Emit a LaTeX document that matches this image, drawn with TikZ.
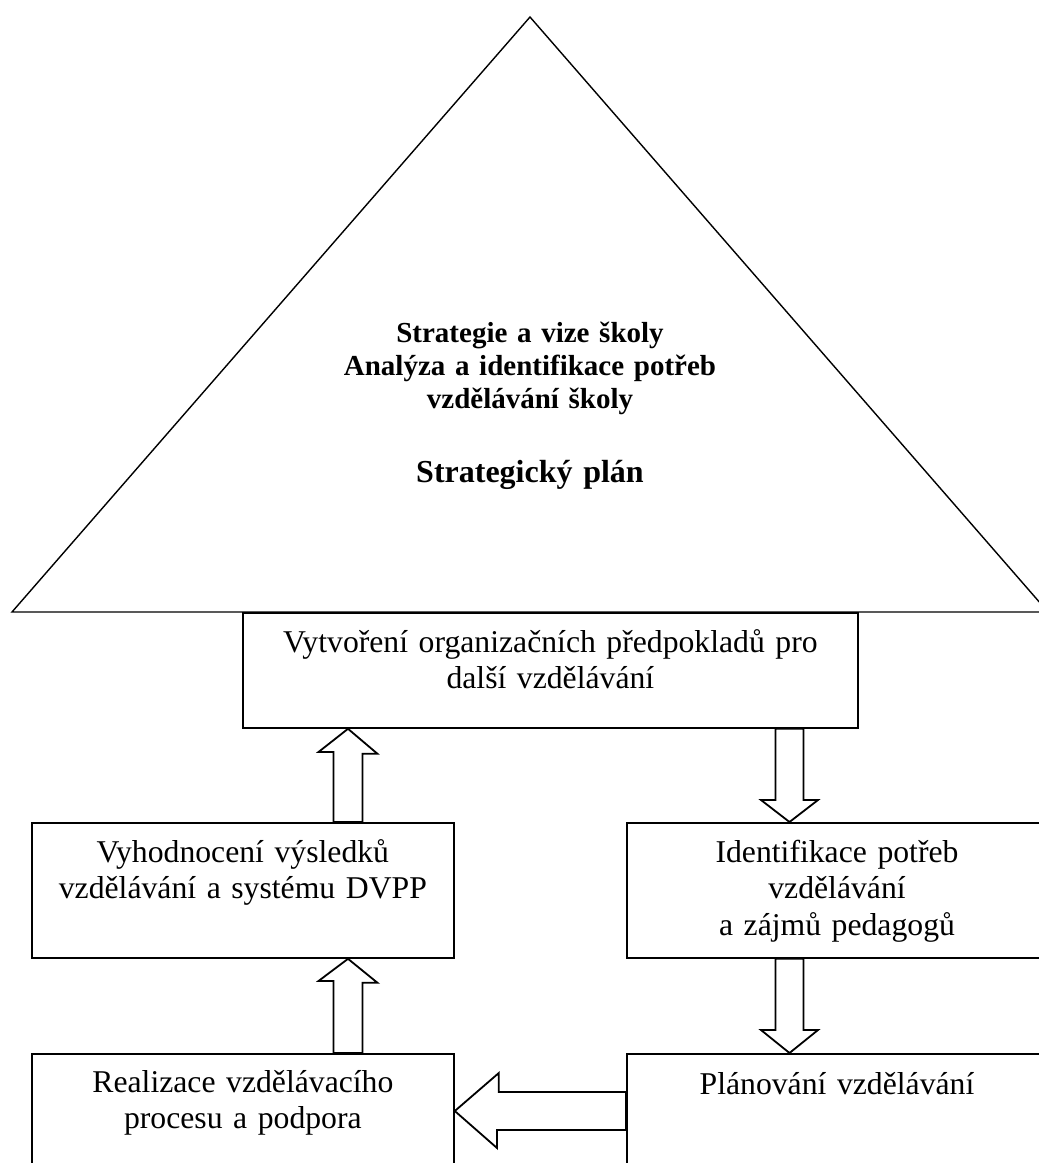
\documentclass[tikz,border=0pt]{standalone}
\usepackage{fontspec}
\setmainfont{Liberation Serif}
\usetikzlibrary{calc,positioning}

\begin{document}
\begin{tikzpicture}[
  x=1pt,y=-1pt,
  stepbox/.style={draw,line width=1.8pt,rectangle,inner sep=0pt,anchor=north west},
  boxtext/.style={anchor=base,inner sep=0pt,align=center,text width=#1,
    font=\fontsize{31.7}{36.9}\selectfont},
  boxtext/.default=400pt,
  visiontext/.style={anchor=base,inner sep=0pt,align=center,text width=520pt,
    font=\fontsize{29}{33}\selectfont\bfseries},
  hollow/.style={draw,fill=white,line width=1.8pt,line join=miter}
]
  \useasboundingbox (0,0) rectangle (1039,1163);

  % pyramid of the school strategy
  \coordinate (apex) at (530,17);
  \coordinate (baseL) at (12,612);
  \coordinate (baseR) at (1048,612);
  \draw[line width=1.4pt] (apex) -- (baseL) -- (baseR) -- cycle;
  \node[visiontext] (vision) at (530,342)
    {Strategie a vize školy\\Analýza a identifikace potřeb\\vzdělávání školy};
  \node[visiontext,font=\fontsize{32}{36}\selectfont\bfseries] (plan) at (530,482)
    {Strategický plán};

  % the cycle of boxes
  \node[stepbox,minimum width=615pt,minimum height=115pt] (topbox) at (242,612) {};
  \node[stepbox,minimum width=422pt,minimum height=135pt] (evalbox) at (31,822) {};
  \node[stepbox,minimum width=420pt,minimum height=135pt] (needbox) at (626,822) {};
  \node[stepbox,minimum width=422pt,minimum height=150pt] (realbox) at (31,1053) {};
  \node[stepbox,minimum width=420pt,minimum height=150pt] (planbox) at (626,1053) {};

  \node[boxtext=600pt] (toptext) at ([yshift=-40pt]topbox.north)
    {Vytvoření organizačních předpokladů pro\\další vzdělávání};
  \node[boxtext] (evaltext) at ([yshift=-40pt]evalbox.north)
    {Vyhodnocení výsledků\\vzdělávání a systému DVPP};
  \node[boxtext] (needtext) at ([yshift=-40pt]needbox.north -| 837,0)
    {Identifikace potřeb\\vzdělávání\\a zájmů pedagogů};
  \node[boxtext] (realtext) at ([yshift=-39pt]realbox.north)
    {Realizace vzdělávacího\\procesu a podpora};
  \node[boxtext] (plantext) at ([yshift=-41pt]planbox.north -| 837,0)
    {Plánování vzdělávání};

  % block arrows between the boxes
  \draw[hollow] (348,0 |- topbox.south) -- ++(29.5,25) -- ++(-15,0)
    -- (362.5,0 |- evalbox.north) -- (333.5,0 |- evalbox.north)
    -- (333.5,752) -- (318.5,752) -- cycle;
  \draw[hollow] (789.5,0 |- needbox.north) -- ++(28.5,-22) -- ++(-14.5,0)
    -- (803.5,0 |- topbox.south) -- (775.5,0 |- topbox.south)
    -- (775.5,800) -- (761,800) -- cycle;
  \draw[hollow] (348,0 |- evalbox.south) -- ++(29.5,24) -- ++(-15,0)
    -- (362.5,0 |- realbox.north) -- (333.5,0 |- realbox.north)
    -- (333.5,981) -- (318.5,981) -- cycle;
  \draw[hollow] (789.5,0 |- planbox.north) -- ++(28.5,-23) -- ++(-14.5,0)
    -- (803.5,0 |- needbox.south) -- (775.5,0 |- needbox.south)
    -- (775.5,1030) -- (761,1030) -- cycle;
  \draw[hollow] (realbox.north east) ++(0,58) -- ++(44,-38) -- ++(0,19)
    -- (planbox.west |- 0,1092) -- (planbox.west |- 0,1130)
    -- (497,1130) -- (497,1148) -- cycle;
\end{tikzpicture}
\end{document}
